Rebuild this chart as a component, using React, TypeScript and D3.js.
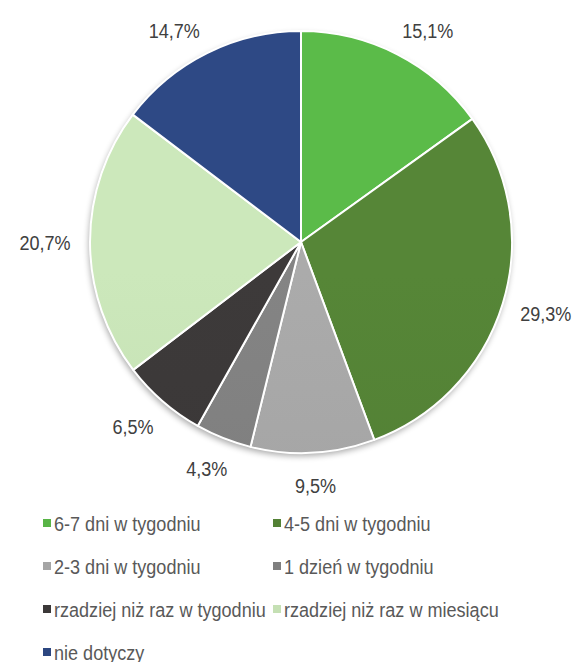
import React, { useEffect, useRef } from "react";
import * as d3 from "d3";

const categories = [
  "6-7 dni w tygodniu",
  "4-5 dni w tygodniu",
  "2-3 dni w tygodniu",
  "1 dzień w tygodniu",
  "rzadziej niż raz w tygodniu",
  "rzadziej niż raz w miesiącu",
  "nie dotyczy",
];
const values = [15.1, 29.3, 9.5, 4.3, 6.5, 20.7, 14.7];
const colors = ["#58B446", "#538135", "#A5A5A5", "#7F7F7F", "#3B3838", "#C5E0B4", "#2C4680"];

const WIDTH = 578;
const HEIGHT = 662;
const FONT = "'Liberation Sans', Arial, sans-serif";
// no narrow font installed: squeeze Liberation Sans horizontally
const SQUEEZE = 0.86;

function drawPie(container: SVGSVGElement) {
  const cx = 301,
    cy = 242,
    r = 211,
    labelRx = r + 45,
    labelRy = r + 33,
    labelTop = 30;

  const svg = d3.select(container);
  svg.selectAll("*").remove();

  const defs = svg.append("defs");

  // soft shadow under the pie
  const shadow = defs
    .append("filter")
    .attr("id", "pieShadow")
    .attr("x", "-10%")
    .attr("y", "-10%")
    .attr("width", "120%")
    .attr("height", "120%");
  shadow.append("feGaussianBlur").attr("in", "SourceAlpha").attr("stdDeviation", 3);
  shadow.append("feOffset").attr("dx", -1).attr("dy", 3).attr("result", "blur");
  shadow
    .append("feComponentTransfer")
    .append("feFuncA")
    .attr("type", "linear")
    .attr("slope", 0.35);
  const merge = shadow.append("feMerge");
  merge.append("feMergeNode");
  merge.append("feMergeNode").attr("in", "SourceGraphic");

  // vertical gradient per slice, slightly lighter at the top
  colors.forEach((c, i) => {
    const g = defs
      .append("linearGradient")
      .attr("id", "slice" + i)
      .attr("gradientUnits", "userSpaceOnUse")
      .attr("x1", 0)
      .attr("x2", 0)
      .attr("y1", cy - r)
      .attr("y2", cy + r);
    g.append("stop").attr("offset", "0%").attr("stop-color", d3.color(c)!.brighter(0.1).formatHex());
    g.append("stop").attr("offset", "100%").attr("stop-color", d3.color(c)!.darker(0.08).formatHex());
  });

  const pie = d3
    .pie<number>()
    .sort(null)
    .value((d) => d);
  const arcs = pie(values);
  const arc = d3.arc<d3.PieArcDatum<number>>().innerRadius(0).outerRadius(r);

  const g = svg.append("g").attr("transform", `translate(${cx},${cy})`);

  g.append("circle").attr("r", r).attr("fill", "#fff").attr("filter", "url(#pieShadow)");

  g.selectAll("path.slice")
    .data(arcs)
    .enter()
    .append("path")
    .attr("class", "slice")
    .attr("d", arc)
    .attr("fill", (d, i) => `url(#slice${i})`)
    .attr("stroke", "#fff")
    .attr("stroke-width", 2)
    .attr("stroke-linejoin", "round");

  // percentage labels outside the pie
  const fmt = (v: number) => v.toFixed(1).replace(".", ",") + "%";
  arcs.forEach((d, i) => {
    const a = (d.startAngle + d.endAngle) / 2;
    let x = cx + labelRx * Math.sin(a);
    let y = cy - labelRy * Math.cos(a);
    if (y < labelTop) {
      y = labelTop;
      const c = (cy - labelTop) / labelRy;
      const s = Math.sqrt(Math.max(0, 1 - c * c));
      x = cx + Math.sign(Math.sin(a)) * labelRx * s;
    }
    svg
      .append("g")
      .attr("transform", `translate(${x},${y}) scale(${SQUEEZE},1)`)
      .append("text")
      .attr("text-anchor", "middle")
      .attr("dominant-baseline", "central")
      .style("font-family", FONT)
      .style("font-size", "21px")
      .style("fill", "#404040")
      .text(fmt(values[i]));
  });

  // legend, two columns
  const legendX = d3.scaleOrdinal<number, number>().domain([0, 1]).range([43, 273]);
  const legendY = d3
    .scaleLinear()
    .domain([0, 1])
    .range([523, 566]);

  const item = svg
    .selectAll("g.legend")
    .data(categories)
    .enter()
    .append("g")
    .attr("class", "legend")
    .attr("transform", (d, i) => `translate(${legendX(i % 2)},${legendY(Math.floor(i / 2))})`);

  item
    .append("rect")
    .attr("x", 0)
    .attr("y", -4)
    .attr("width", 8)
    .attr("height", 8)
    .attr("fill", (d, i) => colors[i]);

  item
    .append("text")
    .attr("transform", `translate(11,0) scale(${SQUEEZE},1)`)
    .attr("dominant-baseline", "central")
    .style("font-family", FONT)
    .style("font-size", "21px")
    .style("fill", "#595959")
    .text((d) => d);
}

export default function App() {
  const ref = useRef<SVGSVGElement>(null);
  useEffect(() => {
    if (ref.current) drawPie(ref.current);
  }, []);
  return (
    <svg
      ref={ref}
      width={WIDTH}
      height={HEIGHT}
      style={{ position: "absolute", left: 0, top: 0, background: "#fff" }}
    />
  );
}
